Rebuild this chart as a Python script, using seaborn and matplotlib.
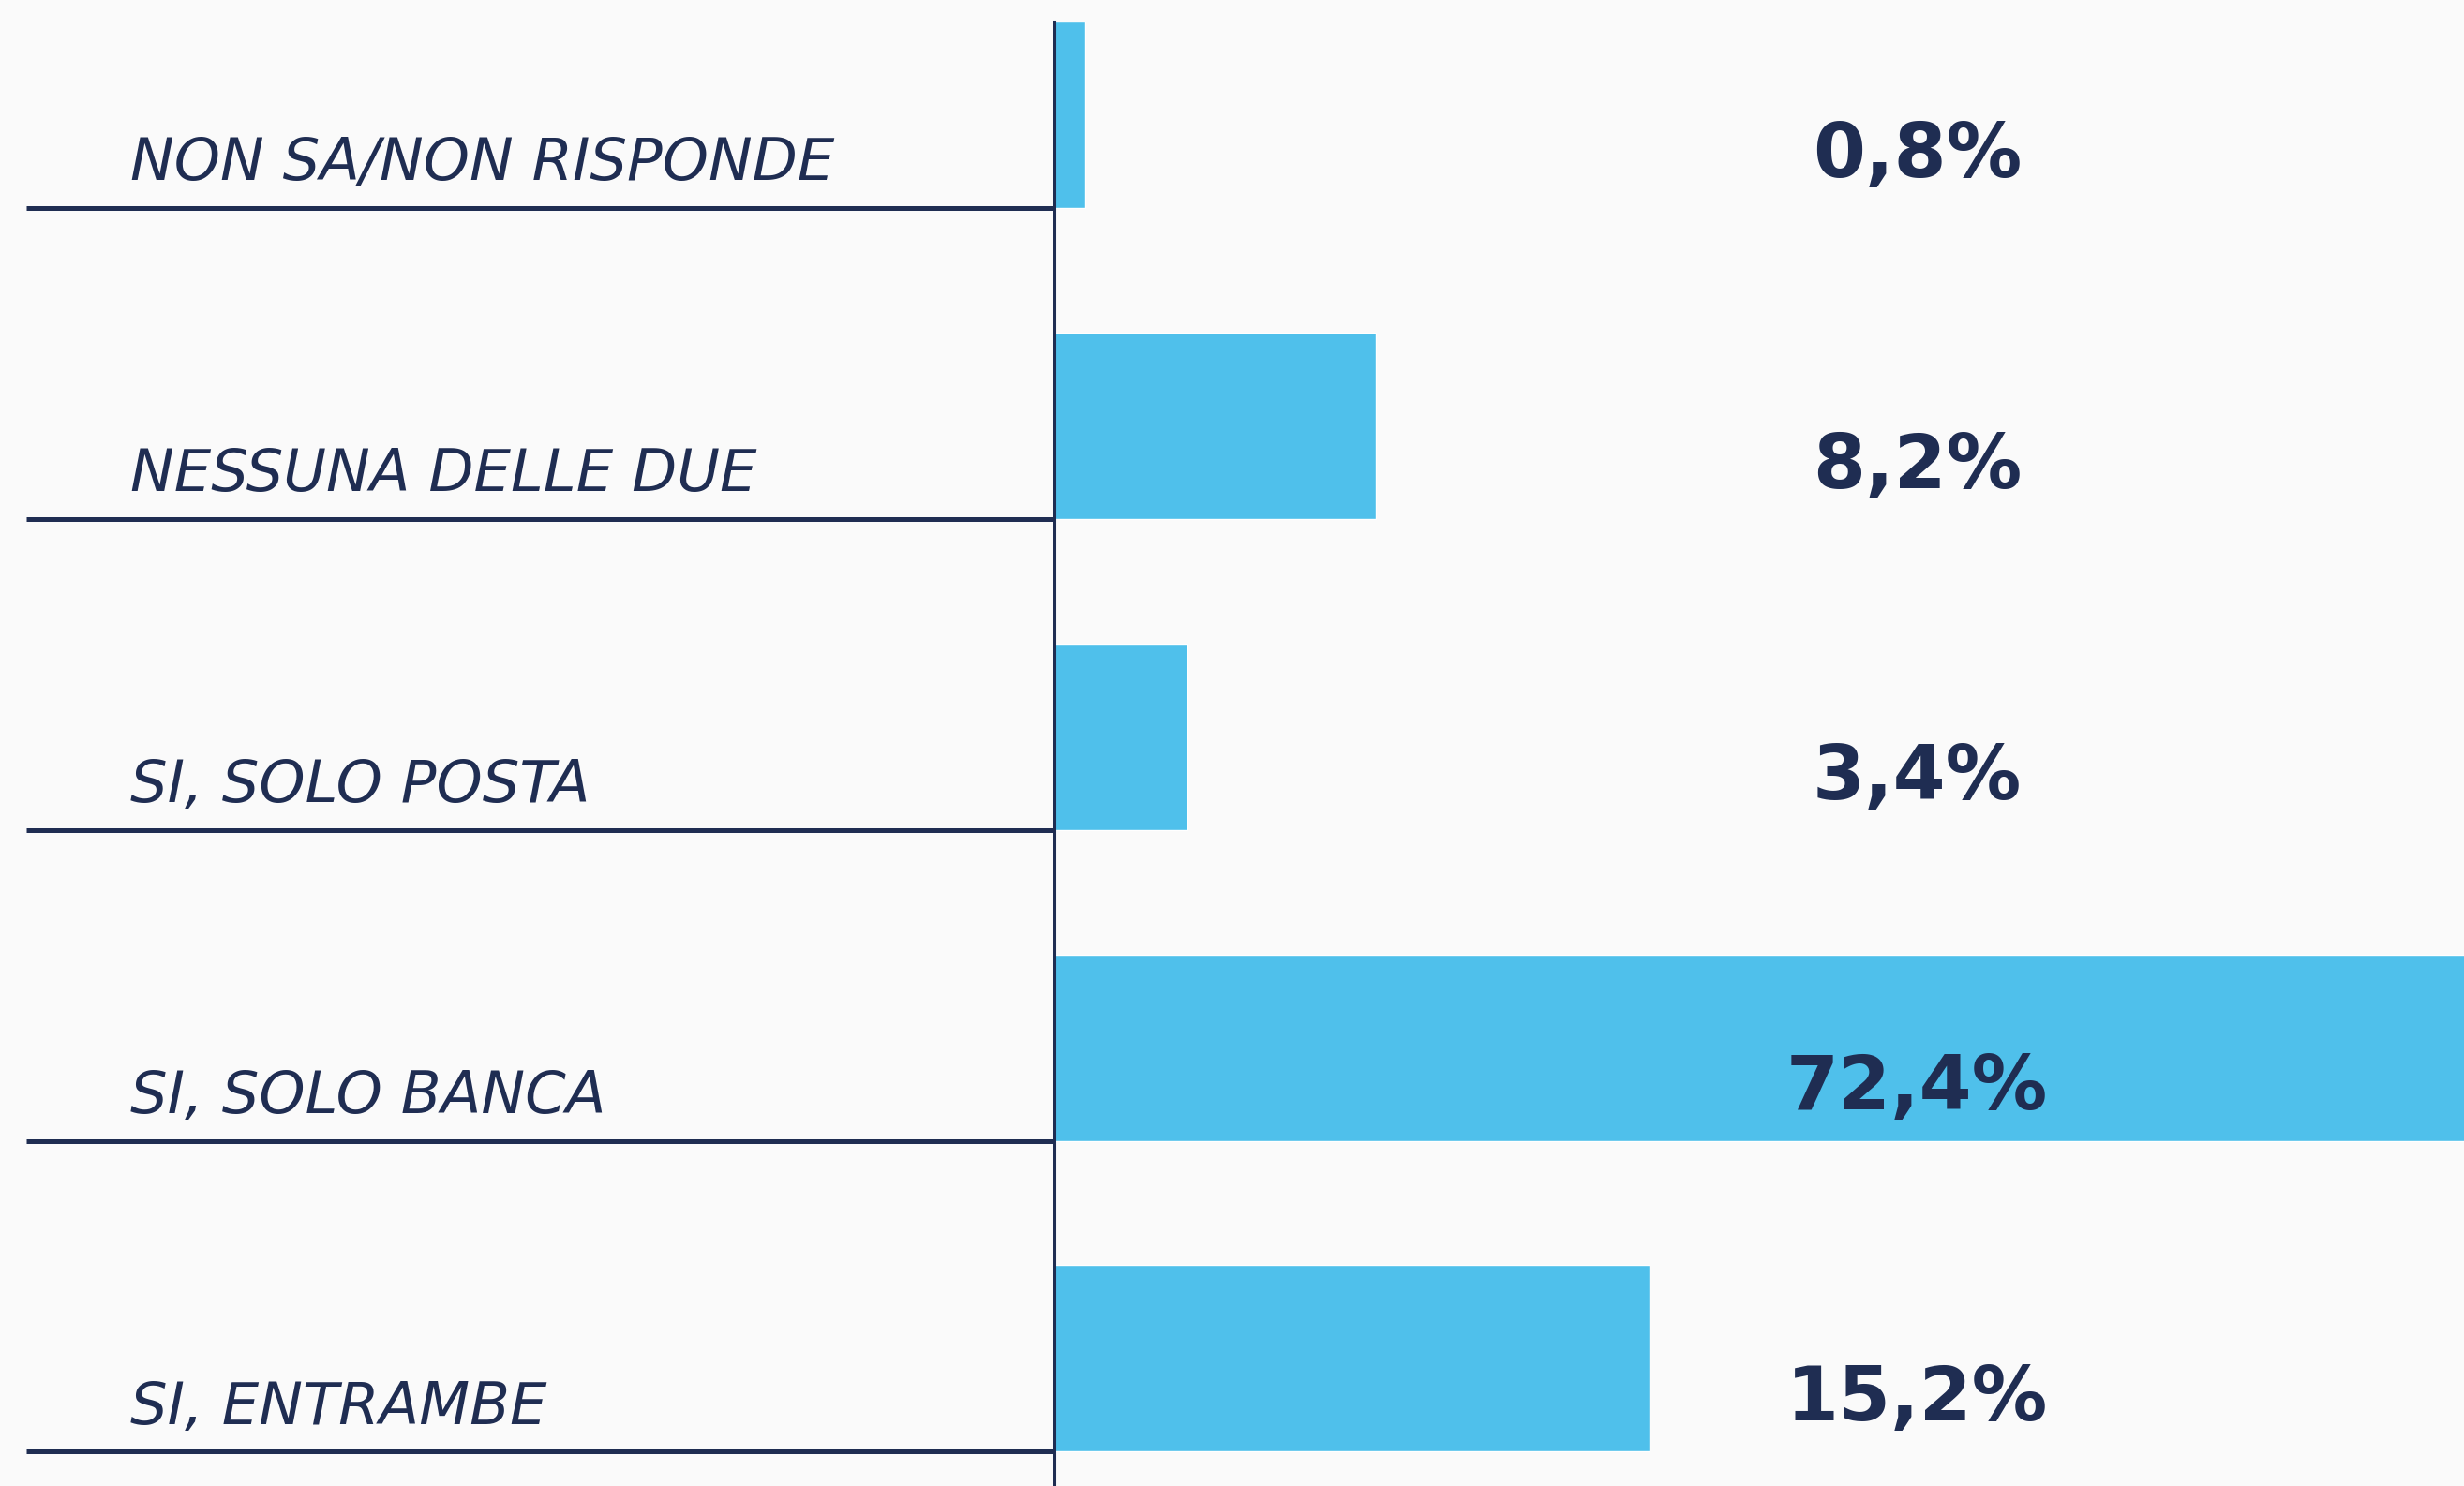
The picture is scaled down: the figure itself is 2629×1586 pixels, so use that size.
import matplotlib
matplotlib.use("Agg")
import matplotlib.pyplot as plt
import matplotlib.transforms as mtransforms
import seaborn as sns
import pandas as pd

# ---- data ----
categories = ['NON SA/NON RISPONDE', 'NESSUNA DELLE DUE', 'SI, SOLO POSTA',
              'SI, SOLO BANCA', 'SI, ENTRAMBE']
values = [0.8, 8.2, 3.4, 72.4, 15.2]
value_labels = ['0,8%', '8,2%', '3,4%', '72,4%', '15,2%']

df = pd.DataFrame({'cat': categories, 'val': values})

navy = '#1f2d52'
bar_col = '#4fc0eb'

sns.set_theme(style='white')
plt.rcParams['font.family'] = ['DejaVu Sans']

fig = plt.figure(figsize=(26.29, 15.86), dpi=100, facecolor='#fafafa')
ax = fig.add_axes([1125 / 2629, 0, 1 - 1125 / 2629, 1563 / 1586])
ax.set_facecolor('none')

sns.barplot(data=df, x='val', y='cat', orient='h', color=bar_col,
            saturation=1, width=0.6, ax=ax)

ax.set_xlim(0, 36)
ax.set_ylim(4.41, -0.3)

# spines
for s in ['top', 'right', 'bottom']:
    ax.spines[s].set_visible(False)
ax.spines['left'].set_color(navy)
ax.spines['left'].set_linewidth(2.2)

# long underline "ticks" under each category
ax.set_xticks([])
ax.set_yticks([])
ax.set_yticks([i + 0.3 for i in range(len(categories))], minor=True)
ax.tick_params(axis='y', which='minor', left=True, length=790, width=3.6,
               color=navy, direction='out')
ax.set_xlabel('')
ax.set_ylabel('')

# category labels
trans = mtransforms.blended_transform_factory(fig.transFigure, ax.transData)
for i, c in enumerate(categories):
    ax.text(139 / 2629, i + 0.21, c, transform=trans, ha='left', va='baseline',
            fontsize=45, fontstyle='italic', color=navy, clip_on=False)

# value labels
trans2 = mtransforms.blended_transform_factory(ax.transAxes, ax.transData)
for i, lab in enumerate(value_labels):
    ax.text(0.612, i + 0.2, lab, transform=trans2, ha='center', va='baseline',
            fontsize=58, fontweight='bold', color=navy)

fig.savefig('out.png', dpi=100, facecolor=fig.get_facecolor())
